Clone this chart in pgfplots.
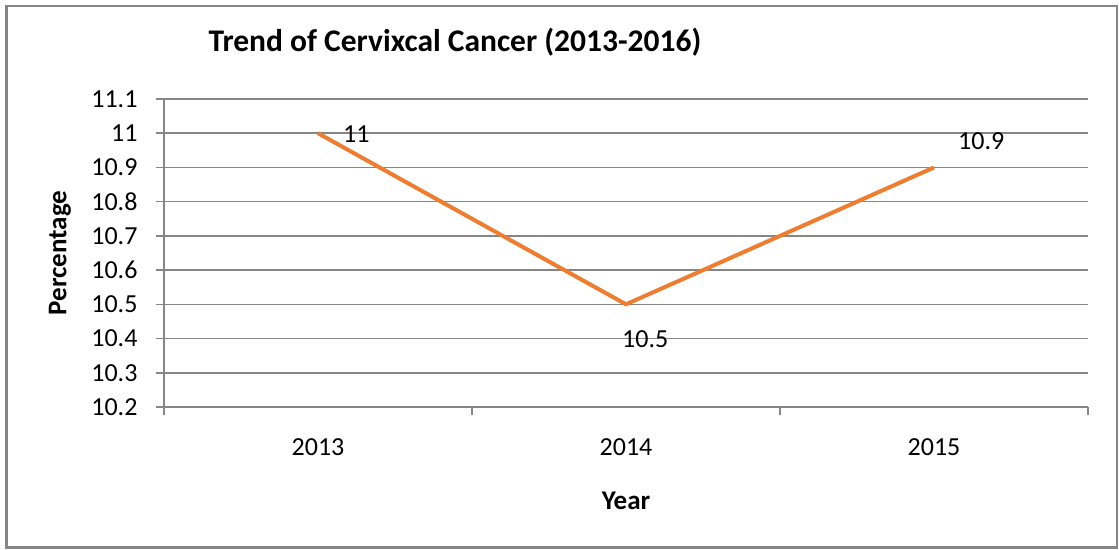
\documentclass[border=0pt]{standalone}
\usepackage{pgfplots}
\pgfplotsset{compat=1.18}
\usepackage{fontspec}
\setmainfont{Carlito}
\definecolor{ora}{HTML}{ED7D31}
\definecolor{grd}{HTML}{868686}
\begin{document}
\begin{tikzpicture}[x=1pt,y=1pt]
\useasboundingbox (0,0) rectangle (1119,549);
\draw[grd, line width=2.5pt] (6.5,1.5) rectangle (1117,543);
\node[font=\bfseries\fontsize{31.5}{38}\selectfont, anchor=base, inner sep=0pt] at (455,497) {Trend of Cervixcal Cancer (2013-2016)};
\begin{axis}[
  at={(164pt,142pt)}, anchor=south west,
  scale only axis, width=924pt, height=308pt,
  xmin=-0.5, xmax=2.5, ymin=10.2, ymax=11.1,
  axis lines*=left,
  axis line style={grd, line width=1.5pt},
  xtick={0,1,2}, xticklabels={2013,2014,2015},
  major x tick style={draw=none},
  minor xtick={-0.5,0.5,1.5,2.5},
  minor tick length=8pt,
  minor x tick style={grd, line width=1.5pt},
  ytick={10.2,10.3,10.4,10.5,10.6,10.7,10.8,10.9,11,11.1},
  y tick style={grd, line width=1.5pt},
  tick align=outside,
  major tick length=8pt,
  ymajorgrids,
  major grid style={grd, line width=1.5pt},
  ticklabel style={font=\fontsize{26}{31}\selectfont},
  /pgf/number format/assume math mode=true,
  yticklabel style={xshift=-15pt, /pgf/number format/.cd, fixed, precision=1},
  xticklabel style={yshift=-20pt},
  xlabel={Year}, ylabel={Percentage},
  label style={font=\bfseries\fontsize{27}{32}\selectfont},
  xlabel style={at={(axis description cs:0.5,-0.305)}, anchor=center},
  ylabel style={at={(axis description cs:-0.1126,0.5)}, anchor=center},
  clip=false,
]
\addplot[ora, line width=4pt, mark=none] coordinates {(0,11) (1,10.5) (2,10.9)};
\node[anchor=base west, inner sep=0pt, font=\fontsize{26}{31}\selectfont] at (axis cs:0.0812,10.974) {11};
\node[anchor=base west, inner sep=0pt, font=\fontsize{26}{31}\selectfont] at (axis cs:0.987,10.375) {10.5};
\node[anchor=base west, inner sep=0pt, font=\fontsize{26}{31}\selectfont] at (axis cs:2.078,10.951) {10.9};
\end{axis}
\end{tikzpicture}
\end{document}
